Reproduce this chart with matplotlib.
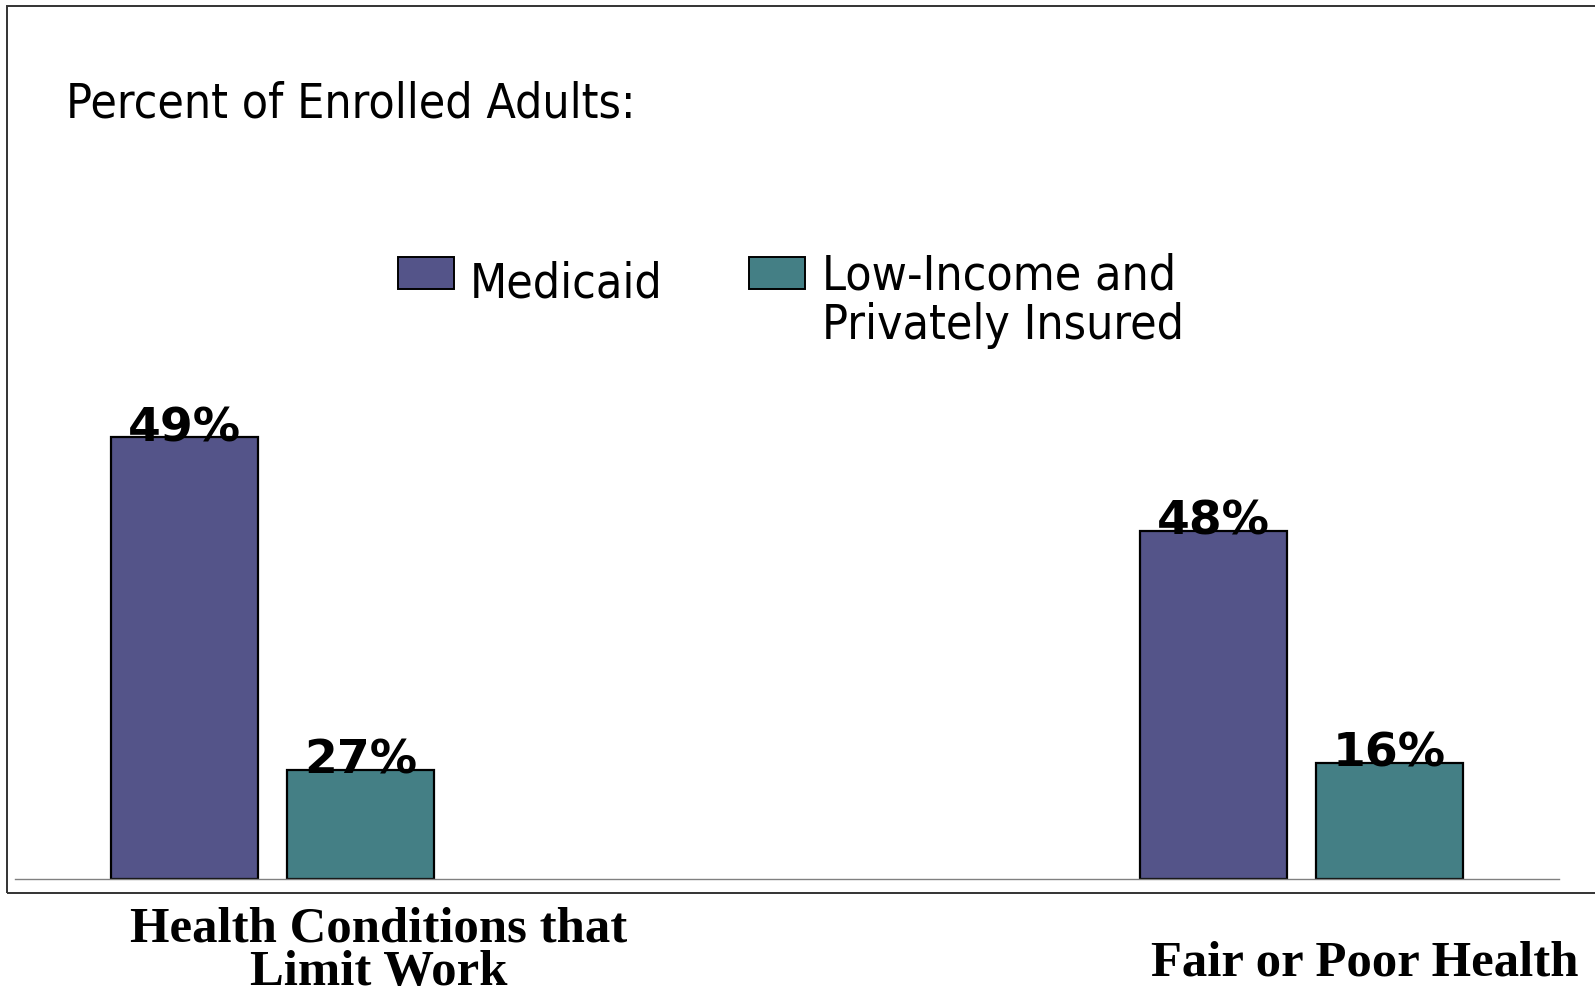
"""
Medicaid vs low-income privately insured adults: health status bars
"""

import matplotlib
matplotlib.use('Agg')
import matplotlib.pyplot as plt
from matplotlib.patches import Rectangle

# Data (labels as printed; drawn heights as measured off the slide, % of panel height)
categories = ['Health Conditions that\nLimit Work', 'Fair or Poor Health']
series = ['Medicaid', 'Low-Income and\nPrivately Insured']
medicaid_labels = ['49%', '48%']
private_labels = ['27%', '16%']
medicaid_heights = [50.6, 39.9]
private_heights = [12.5, 13.3]

color_medicaid = '#545489'
color_private = '#447f85'

W, H = 1595, 997
fig = plt.figure(figsize=(W / 100, H / 100), dpi=100)


def fx(px):
    return px / W


def fy(py):
    return (H - py) / H


# outer frame of the slide panel (right edge runs off the canvas)
frame = Rectangle((fx(7), fy(893)), 1.2, fy(6) - fy(893), transform=fig.transFigure,
                  facecolor='none', edgecolor='#333333', linewidth=1.4, clip_on=False)
fig.patches.append(frame)

ax = fig.add_axes([fx(15), fy(879), fx(1559) - fx(15), fy(6) - fy(879)])
ax.set_xlim(-0.25, 1.25)
ax.set_ylim(0, 100)
for s in ['top', 'left', 'right']:
    ax.spines[s].set_visible(False)
ax.spines['bottom'].set_color('#808080')
ax.spines['bottom'].set_linewidth(1.0)
ax.set_xticks([])
ax.set_yticks([])
ax.patch.set_alpha(0)

x = [0, 1]
width = 0.1428
off = 0.0855
b1 = ax.bar([i - off for i in x], medicaid_heights, width, color=color_medicaid,
            edgecolor='black', linewidth=1.6, zorder=2)
b2 = ax.bar([i + off for i in x], private_heights, width, color=color_private,
            edgecolor='black', linewidth=1.6, zorder=2)

for bars, labels in [(b1, medicaid_labels), (b2, private_labels)]:
    for rect, lab in zip(bars, labels):
        ax.annotate(lab, (rect.get_x() + rect.get_width() / 2, rect.get_height()),
                    xytext=(0, -4), textcoords='offset pixels', ha='center', va='baseline',
                    fontsize=34, fontweight='bold', family='DejaVu Sans', zorder=3)

sans = dict(fontsize=34.6, family='DejaVu Sans', fontstretch='condensed', va='baseline')
serif = dict(fontsize=36.5, fontweight='bold', family='Liberation Serif',
             ha='center', va='baseline')

# title
fig.text(fx(66), fy(117), 'Percent of Enrolled Adults:', **sans)

# legend
fig.patches.append(Rectangle((fx(398), fy(289)), fx(56), fy(257) - fy(289),
                             transform=fig.transFigure, facecolor=color_medicaid,
                             edgecolor='black', linewidth=1.4))
fig.patches.append(Rectangle((fx(749), fy(289)), fx(56), fy(257) - fy(289),
                             transform=fig.transFigure, facecolor=color_private,
                             edgecolor='black', linewidth=1.4))
fig.text(fx(470), fy(298), series[0], **sans)
line1, line2 = series[1].split('\n')
fig.text(fx(822), fy(289), line1, **sans)
fig.text(fx(822), fy(339), line2, **sans)

# category labels below the frame
c1a, c1b = categories[0].split('\n')
fig.text(fx(379), fy(941), c1a, **serif)
fig.text(fx(379), fy(985), c1b, **serif)
fig.text(fx(1365), fy(975), categories[1], **serif)

plt.savefig('out.png', dpi=100, facecolor='white')
